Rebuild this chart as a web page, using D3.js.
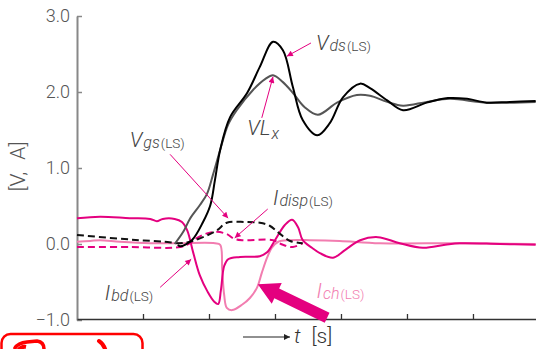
<!DOCTYPE html>
<html>
<head>
<meta charset="utf-8">
<script src="https://cdn.jsdelivr.net/npm/d3@7/dist/d3.min.js"></script>
<style>
  html, body { margin: 0; padding: 0; background: #fff; }
  svg { display: block; }
  text { font-family: Roboto, "Liberation Sans", sans-serif; font-weight: 300; }
</style>
</head>
<body>
<svg id="chart" width="536" height="349"></svg>
<script>
// Switching waveforms of the low-side device (time in tick units)
const yTicks = [-1, 0, 1, 2, 3];
const xTicks = [1, 2, 3, 4, 5, 6];

const vdsT = [1.53, 1.56, 1.74, 1.91, 2.02, 2.09, 2.17, 2.32, 2.58, 2.77, 2.97, 3.12, 3.27, 3.42, 3.64, 3.83, 4.03, 4.29, 4.44, 4.70, 4.94, 5.30, 5.62, 5.91, 6.21, 6.56, 6.95];
const vdsV = [-0.01, -0.03, 0.05, 0.29, 0.51, 0.84, 1.24, 1.67, 1.99, 2.33, 2.66, 2.55, 2.07, 1.63, 1.43, 1.59, 1.93, 2.11, 2.05, 1.89, 1.76, 1.86, 1.92, 1.91, 1.86, 1.87, 1.88];

const vlxT = [1.48, 1.61, 1.71, 1.86, 1.97, 2.06, 2.17, 2.29, 2.42, 2.67, 2.85, 2.97, 3.12, 3.27, 3.45, 3.65, 3.94, 4.24, 4.44, 4.70, 4.94, 5.30, 5.65, 6.21, 6.95];
const vlxV = [0.00, 0.16, 0.33, 0.51, 0.66, 0.91, 1.24, 1.57, 1.76, 2.03, 2.17, 2.22, 2.13, 1.99, 1.80, 1.70, 1.86, 1.96, 1.95, 1.87, 1.82, 1.87, 1.91, 1.86, 1.87];

const vgsT = [0, 0.5, 0.95, 1.33, 1.56, 1.71, 1.91, 2.12, 2.27, 2.55, 2.77, 2.92, 3.08, 3.23, 3.42];
const vgsV = [0.12, 0.08, 0.05, 0.03, 0.01, 0.03, 0.09, 0.18, 0.28, 0.29, 0.28, 0.24, 0.13, 0.04, 0.01];

const idispT = [0, 0.80, 1.56, 1.71, 1.82, 1.97, 2.12, 2.27, 2.38, 2.50, 2.97, 3.12, 3.27, 3.42];
const idispV = [-0.04, -0.04, -0.04, 0.01, 0.08, 0.14, 0.16, 0.13, 0.07, 0.05, 0.05, -0.01, -0.04, 0.01];

const ibdT = [0, 0.35, 0.80, 1.11, 1.21, 1.30, 1.48, 1.59, 1.67, 1.76, 1.86, 1.98, 2.08, 2.14, 2.18, 2.23, 2.29, 2.47, 2.77, 2.88, 3.00, 3.15, 3.26, 3.35, 3.42, 3.56, 3.68, 3.88, 4.06, 4.29, 4.56, 4.89, 5.24, 5.58, 5.80, 6.41, 6.95];
const ibdV = [0.34, 0.36, 0.34, 0.33, 0.30, 0.33, 0.33, 0.29, 0.18, -0.11, -0.41, -0.63, -0.76, -0.79, -0.61, -0.29, -0.20, -0.17, -0.16, -0.11, 0.05, 0.25, 0.32, 0.22, 0.05, -0.05, -0.12, -0.18, -0.08, 0.05, 0.09, 0.01, -0.05, -0.01, 0.01, 0.00, -0.01];

const ichT = [0, 0.20, 0.35, 0.65, 1.11, 1.56, 2.09, 2.17, 2.20, 2.23, 2.27, 2.35, 2.50, 2.62, 2.73, 2.80, 2.88, 2.95, 3.05, 3.23, 3.53, 3.98, 4.59, 5.80, 6.95];
const ichV = [0.03, 0.04, 0.05, 0.03, 0.01, 0.01, 0.01, -0.01, -0.34, -0.67, -0.84, -0.87, -0.80, -0.71, -0.57, -0.38, -0.18, -0.05, 0.03, 0.05, 0.05, 0.04, 0.01, 0.01, 0.00];

const MAGENTA = "#e4007f";
const PINK = "#f27db0";
const TEXT = "#444";

const svg = d3.select("#chart");
const x = d3.scaleLinear().domain([0, 6.955]).range([77, 536]);
const y = d3.scaleLinear().domain([-1, 3]).range([320, 16]);

const defs = svg.append("defs");
defs.append("marker")
  .attr("id", "head").attr("viewBox", "0 0 10 10")
  .attr("refX", 10).attr("refY", 5)
  .attr("markerWidth", 7).attr("markerHeight", 6)
  .attr("markerUnits", "userSpaceOnUse")
  .attr("orient", "auto")
  .append("path").attr("d", "M0,0 L10,5 L0,10 Z").attr("fill", MAGENTA);
defs.append("marker")
  .attr("id", "headDark").attr("viewBox", "0 0 10 10")
  .attr("refX", 10).attr("refY", 5)
  .attr("markerWidth", 9).attr("markerHeight", 6)
  .attr("markerUnits", "userSpaceOnUse")
  .attr("orient", "auto")
  .append("path").attr("d", "M0,0 L10,5 L0,10 Z").attr("fill", "#222");

// Axes
const yAxis = d3.axisLeft(y).tickValues(yTicks).tickSize(-5).tickSizeOuter(0)
  .tickPadding(7).tickFormat(d3.format(".1f"));
const gy = svg.append("g").attr("transform", `translate(${x(0)},0)`).call(yAxis);
gy.select(".domain").attr("stroke", "#888").attr("stroke-width", 2);
gy.selectAll(".tick line").attr("stroke", "#888").attr("stroke-width", 1.5);
gy.selectAll(".tick text").attr("font-size", 18).attr("fill", "#555")
  .style("font-family", "Roboto, 'Liberation Sans', sans-serif").style("font-weight", 300);

const xAxis = d3.axisBottom(x).tickValues(xTicks).tickSize(-5).tickSizeOuter(0).tickFormat("");
const gx = svg.append("g").attr("transform", `translate(0,${y(-1) - 1})`).call(xAxis);
gx.select(".domain").attr("stroke", "#333").attr("stroke-width", 1.5);
gx.selectAll(".tick line").attr("stroke", "#333").attr("stroke-width", 1.3);

// Axis titles
const yt = svg.append("text")
  .attr("transform", `translate(25,${y(1.02)}) rotate(-90)`)
  .attr("text-anchor", "middle").attr("font-size", 21).attr("fill", "#555");
yt.append("tspan").text("[V,");
yt.append("tspan").attr("dx", 12).text("A]");

svg.append("line")
  .attr("x1", 243).attr("y1", 337).attr("x2", 290).attr("y2", 337)
  .attr("stroke", "#222").attr("stroke-width", 1.2).attr("marker-end", "url(#headDark)");
const tl = svg.append("text").attr("x", 294).attr("y", 343).attr("fill", "#333");
tl.append("tspan").attr("font-style", "italic").attr("font-size", 21).text("t");
tl.append("tspan").attr("dx", 11).attr("font-size", 21).text("[s]");

// Waveforms
const line = d3.line().x(d => x(d[0])).y(d => y(d[1])).curve(d3.curveCatmullRom.alpha(0.5));
const zip = (a, b) => a.map((t, i) => [t, b[i]]);

const series = [
  { t: ichT, v: ichV, color: PINK, dash: null },
  { t: ibdT, v: ibdV, color: MAGENTA, dash: null },
  { t: idispT, v: idispV, color: MAGENTA, dash: "7,4" },
  { t: vgsT, v: vgsV, color: "#111", dash: "7,4" },
  { t: vlxT, v: vlxV, color: "#555", dash: null },
  { t: vdsT, v: vdsV, color: "#000", dash: null }
];
svg.append("g").selectAll("path").data(series).join("path")
  .attr("d", d => line(zip(d.t, d.v)))
  .attr("fill", "none")
  .attr("stroke", d => d.color)
  .attr("stroke-width", 2)
  .attr("stroke-dasharray", d => d.dash)
  .attr("stroke-linejoin", "round");

// Callout leaders [from t, from v, to t, to v]
const leaders = [
  [3.545, 2.645, 3.18, 2.47],
  [2.80, 1.66, 2.97, 2.20],
  [1.41, 1.18, 2.29, 0.34],
  [2.89, 0.46, 2.39, 0.08],
  [1.26, -0.57, 1.73, -0.20]
];
svg.append("g").selectAll("line").data(leaders).join("line")
  .attr("x1", d => x(d[0])).attr("y1", d => y(d[1]))
  .attr("x2", d => x(d[2])).attr("y2", d => y(d[3]))
  .attr("stroke", MAGENTA).attr("stroke-width", 1)
  .attr("marker-end", "url(#head)");

// Bold arrow toward the channel current
(function () {
  const tail = [x(3.79), y(-0.97)], tip = [x(2.74), y(-0.53)];
  const dx = tail[0] - tip[0], dy = tail[1] - tip[1];
  const L = Math.hypot(dx, dy), ux = dx / L, uy = dy / L, px = -uy, py = ux;
  const hl = 21, hw = 11.5, sw = 5.5;
  const b = [tip[0] + ux * hl, tip[1] + uy * hl];
  const pts = [
    tip,
    [b[0] + px * hw, b[1] + py * hw],
    [b[0] + px * sw, b[1] + py * sw],
    [tail[0] + px * sw, tail[1] + py * sw],
    [tail[0] - px * sw, tail[1] - py * sw],
    [b[0] - px * sw, b[1] - py * sw],
    [b[0] - px * hw, b[1] - py * hw]
  ];
  svg.append("path").attr("d", "M" + pts.map(p => p.join(",")).join("L") + "Z").attr("fill", MAGENTA);
})();

// Series labels: [main, subscript, suffix, t, v, colour]
const labels = [
  ["V", "ds", "(LS)", 3.62, 2.55, TEXT],
  ["VL", "x", "", 2.58, 1.43, TEXT],
  ["V", "gs", "(LS)", 0.80, 1.28, TEXT],
  ["I", "disp", "(LS)", 2.97, 0.51, TEXT],
  ["I", "bd", "(LS)", 0.42, -0.74, TEXT],
  ["I", "ch", "(LS)", 3.63, -0.71, PINK]
];
labels.forEach(([m, s, suf, t, v, c]) => {
  const tx = svg.append("text").attr("x", x(t)).attr("y", y(v)).attr("fill", c);
  tx.append("tspan").attr("font-style", "italic").attr("font-size", 21).text(m);
  tx.append("tspan").attr("font-style", "italic").attr("font-size", 16)
    .attr("dy", suf ? 1 : 4).attr("dx", 1).text(s);
  if (suf) tx.append("tspan").attr("font-size", 13.5).attr("dx", 1).attr("dy", 0).text(suf);
});

// Red stamp frame at the lower left
svg.append("rect").attr("x", 1.5).attr("y", 334).attr("width", 141).attr("height", 30)
  .attr("rx", 9).attr("fill", "none").attr("stroke", "#f00").attr("stroke-width", 2.5);
svg.append("path").attr("d", "M15,348 Q18,343 27,342 L37,341 Q44,342 44,349")
  .attr("fill", "none").attr("stroke", "#f00").attr("stroke-width", 3.5).attr("stroke-linecap", "round");
svg.append("path").attr("d", "M17,352 Q21,346 26,347")
  .attr("fill", "none").attr("stroke", "#f00").attr("stroke-width", 4);
svg.append("path").attr("d", "M99,341 Q104,344 106,352")
  .attr("fill", "none").attr("stroke", "#f00").attr("stroke-width", 4).attr("stroke-linecap", "round");
</script>
</body>
</html>
